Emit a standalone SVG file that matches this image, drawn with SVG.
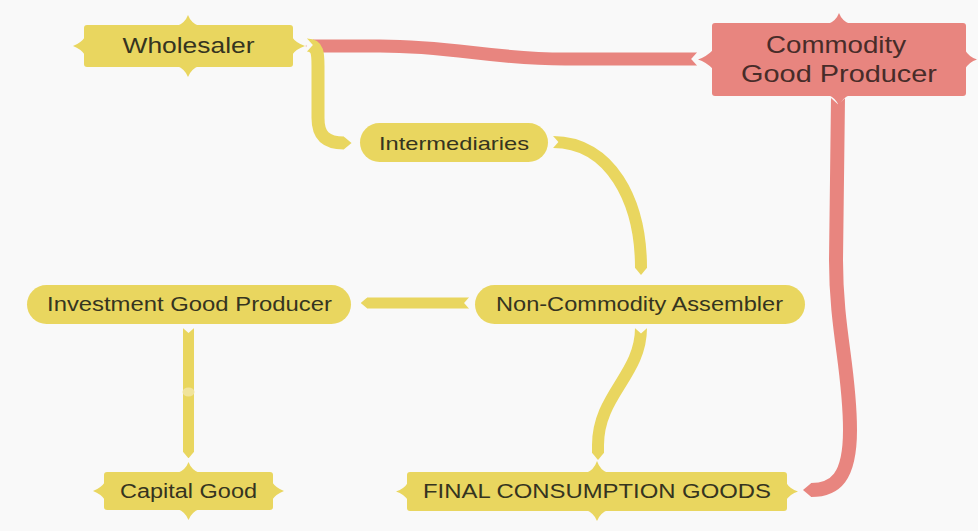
<svg xmlns="http://www.w3.org/2000/svg" width="978" height="531" viewBox="0 0 978 531">
<style>
.y{fill:#E9D65F}
.r{fill:#E8857F}
.t{font-family:"Liberation Sans",Arial,sans-serif;fill:#35341F;text-anchor:middle}
.tr{font-family:"Liberation Sans",Arial,sans-serif;fill:#472C29;text-anchor:middle}
.cy{fill:none;stroke:#E9D65F;stroke-linejoin:round}
.cr{fill:none;stroke:#E8857F;stroke-linejoin:round}
</style>
<defs>
<marker id="tipY" viewBox="0 -0.5 0.6 1" refX="0.02" refY="0" markerWidth="0.6" markerHeight="1" orient="auto" markerUnits="strokeWidth"><path d="M0,-0.5 L0.6,0 L0,0.5Z" fill="#E9D65F"/></marker>
<marker id="tipR" viewBox="0 -0.5 0.6 1" refX="0.02" refY="0" markerWidth="0.6" markerHeight="1" orient="auto" markerUnits="strokeWidth"><path d="M0,-0.5 L0.6,0 L0,0.5Z" fill="#E8857F"/></marker>
<marker id="notch" viewBox="-0.05 -0.56 0.55 1.12" refX="0" refY="0" markerWidth="0.55" markerHeight="1.12" orient="auto" markerUnits="strokeWidth" overflow="visible"><path d="M-0.05,-0.56 L0.45,0 L-0.05,0.56Z" fill="#F9F9F9"/></marker>
</defs>
<rect width="978" height="531" fill="#F9F9F9"/>

<g id="connectors">
<path class="cr" stroke-width="13" d="M697 59 L565 59 C490 59 455 46 380 46 L313 46" marker-start="url(#notch)" marker-end="url(#tipR)"/>
<path class="cr" stroke-width="14" d="M838 98 L836 260 C836 330 850 370 850 430 C850 478 835 490 811 490" marker-start="url(#notch)" marker-end="url(#tipR)"/>
<path class="cy" stroke-width="13" d="M307 45 C318 45 318 54 318 66 L318 118 C318 135 325 143 344 143" marker-start="url(#notch)" marker-end="url(#tipY)"/>
<path class="cy" stroke-width="12" d="M553 142 C610 142 641 200 641 268" marker-start="url(#notch)" marker-end="url(#tipY)"/>
<path class="cy" stroke-width="11" d="M469 303 L367 303" marker-start="url(#notch)" marker-end="url(#tipY)"/>
<path class="cy" stroke-width="12" d="M641 328 C641 375 598 395 598 445 L598 453" marker-start="url(#notch)" marker-end="url(#tipY)"/>
<path class="cy" stroke-width="11" d="M188.5 328 L188.5 452" marker-start="url(#notch)" marker-end="url(#tipY)"/>
<ellipse cx="188.5" cy="392" rx="6" ry="4.5" fill="#F1E49C"/>
</g>

<g id="wholesaler">
<rect class="y" x="84" y="25" width="209" height="42" rx="3"/>
<path class="y" d="M177 26 Q185 23 188 15 Q191 23 199 26 Z M177 66 Q185 69 188 77 Q191 69 199 66 Z M85 37 Q81 43 73 46 Q81 49 85 55 Z M292 37 Q296 43 305 46 Q296 49 292 55 Z"/>
<text class="t" x="188.5" y="53" font-size="22" textLength="132" lengthAdjust="spacingAndGlyphs">Wholesaler</text>
</g>

<g id="commodity">
<rect class="r" x="712" y="23" width="254" height="73" rx="3"/>
<path class="r" d="M828 24 Q836 21 839 13 Q842 21 850 24 Z M828 95 Q836 98 839 106 Q842 98 850 95 Z M713 50 Q706 57 698 59.5 Q706 62 713 69 Z M965 50 Q969 57 977 59.5 Q969 62 965 69 Z"/>
<text class="tr" x="836" y="53" font-size="24" textLength="140" lengthAdjust="spacingAndGlyphs">Commodity</text>
<text class="tr" x="839" y="81.5" font-size="24" textLength="196" lengthAdjust="spacingAndGlyphs">Good Producer</text>
</g>

<g id="intermediaries">
<rect class="y" x="360" y="123" width="188" height="39" rx="19.5"/>
<text class="t" x="454" y="150" font-size="19" textLength="150" lengthAdjust="spacingAndGlyphs">Intermediaries</text>
</g>

<g id="investment">
<rect class="y" x="27" y="285" width="324" height="39" rx="19.5"/>
<text class="t" x="189.5" y="310.5" font-size="19.5" textLength="285" lengthAdjust="spacingAndGlyphs">Investment Good Producer</text>
</g>

<g id="assembler">
<rect class="y" x="475" y="285" width="330" height="39" rx="19.5"/>
<text class="t" x="639.5" y="310.5" font-size="19.5" textLength="287" lengthAdjust="spacingAndGlyphs">Non-Commodity Assembler</text>
</g>

<g id="capital">
<rect class="y" x="104" y="472" width="169" height="38" rx="3"/>
<path class="y" d="M177.5 473 Q185.5 470 188.5 462 Q191.5 470 199.5 473 Z M177.5 509 Q185.5 512 188.5 520 Q191.5 512 199.5 509 Z M105 482 Q101 488 93 491 Q101 494 105 500 Z M272 482 Q276 488 284 491 Q276 494 272 500 Z"/>
<text class="t" x="188.5" y="497.5" font-size="20" textLength="137" lengthAdjust="spacingAndGlyphs">Capital Good</text>
</g>

<g id="final">
<rect class="y" x="407" y="472" width="380" height="39" rx="3"/>
<path class="y" d="M586 473 Q594 470 597 461 Q600 470 608 473 Z M586 510 Q594 513 597 521 Q600 513 608 510 Z M408 482.5 Q404 489 396 491.5 Q404 494 408 500.5 Z M786 482.5 Q790 489 798 491.5 Q790 494 786 500.5 Z"/>
<text class="t" x="597" y="498" font-size="21" textLength="348" lengthAdjust="spacingAndGlyphs">FINAL CONSUMPTION GOODS</text>
</g>
</svg>
